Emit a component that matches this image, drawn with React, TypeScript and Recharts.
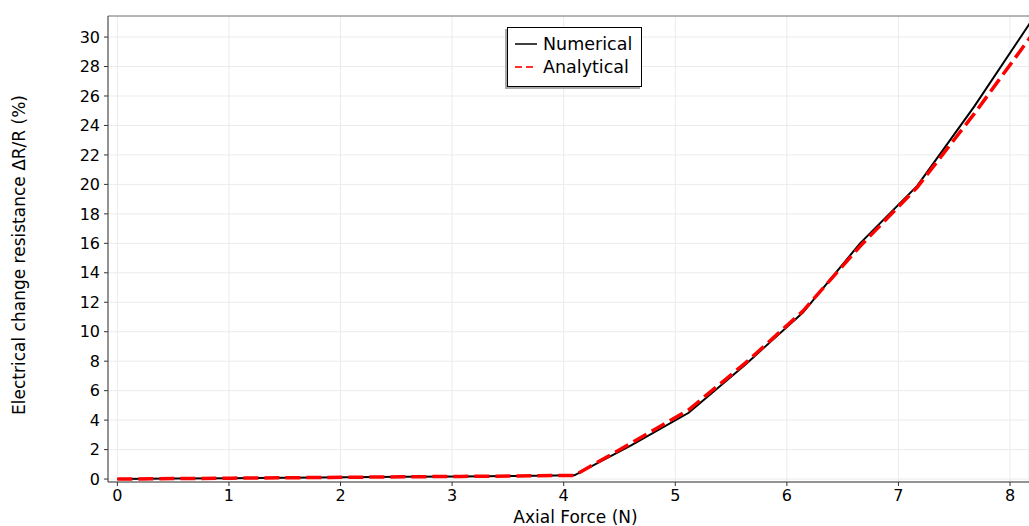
import React from "react";
import { LineChart, Line, XAxis, YAxis, CartesianGrid } from "recharts";

const forceN = [0, 0.512, 1.024, 1.536, 2.048, 2.56, 3.072, 3.584, 4.096, 4.608, 5.12, 5.632, 6.144, 6.656, 7.168, 7.68, 8.192];
const numerical = [0, 0.03, 0.06, 0.09, 0.12, 0.15, 0.18, 0.21, 0.25, 2.3, 4.5, 7.8, 11.3, 16.0, 19.9, 25.3, 31.1];
const analytical = [0, 0.03, 0.06, 0.09, 0.12, 0.15, 0.18, 0.21, 0.25, 2.45, 4.7, 7.9, 11.4, 15.8, 19.8, 24.8, 30.1];

const xTicks = [0, 1, 2, 3, 4, 5, 6, 7, 8];
const yTicks = [0, 2, 4, 6, 8, 10, 12, 14, 16, 18, 20, 22, 24, 26, 28, 30];

const data = forceN.map((f, i) => ({ f, num: numerical[i], ana: analytical[i] }));

const FONT = "'DejaVu Sans', sans-serif";

function LegendBox() {
  return (
    <div
      style={{
        position: "absolute", left: 507, top: 27, width: 133, height: 58,
        border: "1px solid #000", background: "#fff", boxShadow: "-2px 2px 0 #aaa",
        fontFamily: FONT, fontSize: 17.5, color: "#000",
      }}
    >
      {[
        { name: "Numerical", color: "#000", dash: undefined as string | undefined, w: 1.5 },
        { name: "Analytical", color: "#ff3030", dash: "7 4", w: 1.8 },
      ].map((it, i) => (
        <div key={it.name} style={{ position: "absolute", left: 6, top: 6 + i * 23, display: "flex", alignItems: "center" }}>
          <svg width={24} height={20}>
            <line x1={1} y1={10} x2={23} y2={10} stroke={it.color} strokeWidth={it.w} strokeDasharray={it.dash} />
          </svg>
          <span style={{ marginLeft: 5 }}>{it.name}</span>
        </div>
      ))}
    </div>
  );
}

export default function App() {
  return (
    <div style={{ position: "absolute", left: 0, top: 0, width: 1029, height: 526, background: "#fff", overflow: "hidden" }}>
      <LineChart width={1029} height={526} data={data} margin={{ top: 0, right: 0, bottom: 0, left: 0 }}>
        <CartesianGrid stroke="#ebebeb" strokeWidth={1} />
        <XAxis
          dataKey="f" type="number" domain={[-0.084, 8.17]} ticks={xTicks} allowDataOverflow
          height={44} tickSize={4} tickMargin={4} stroke="#333"
          tick={{ fontSize: 16, fontFamily: FONT, fill: "#000" }}
          label={{ value: "Axial Force (N)", position: "insideBottom", offset: 3, dx: 7, style: { fontSize: 17, fontFamily: FONT, fill: "#000" } }}
        />
        <XAxis
          xAxisId="top" orientation="top" dataKey="f" type="number" domain={[-0.084, 8.17]} ticks={xTicks}
          allowDataOverflow height={16} tickSize={0} tickFormatter={() => ""} stroke="#777"
        />
        <YAxis
          type="number" domain={[-0.2, 31.43]} ticks={yTicks} allowDataOverflow width={108}
          tickSize={4} tickMargin={4} stroke="#333"
          tick={{ fontSize: 16, fontFamily: FONT, fill: "#000" }}
          label={{ value: "Electrical change resistance \u0394R/R (%)", angle: -90, position: "insideLeft", offset: 19, dy: 6, style: { textAnchor: "middle", fontSize: 17, fontFamily: FONT, fill: "#000" } }}
        />
        <Line dataKey="num" type="linear" stroke="#000" strokeWidth={2} dot={false} isAnimationActive={false} />
        <Line dataKey="ana" type="linear" stroke="#ff0000" strokeWidth={3.5} strokeDasharray="15 6" dot={false} isAnimationActive={false} />
      </LineChart>
      <LegendBox />
    </div>
  );
}
